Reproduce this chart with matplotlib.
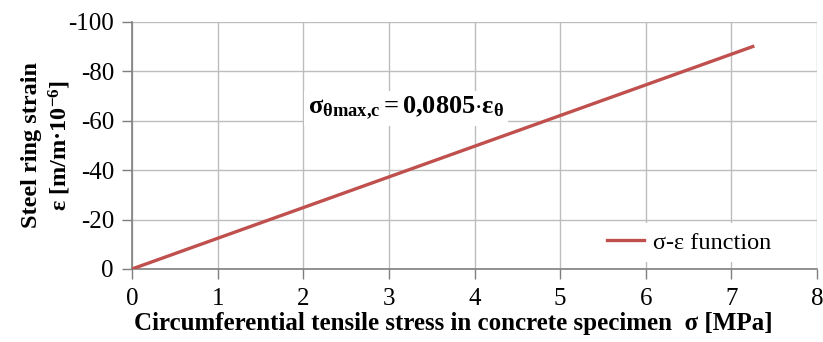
import matplotlib
matplotlib.use("Agg")
import matplotlib.pyplot as plt

# stress in concrete specimen [MPa] vs. steel ring strain [m/m*10^-6]
sigma = [0.0, 7.25]
strain = [0.0, -90.06]
x_ticks = [0, 1, 2, 3, 4, 5, 6, 7, 8]
y_ticks = [0, -20, -40, -60, -80, -100]

plt.rcParams['font.family'] = ['Liberation Serif', 'DejaVu Serif']
plt.rcParams['mathtext.fontset'] = 'custom'
plt.rcParams['mathtext.rm'] = 'Liberation Serif'
plt.rcParams['mathtext.bf'] = 'Liberation Serif:bold'
plt.rcParams['mathtext.it'] = 'Liberation Serif:italic'
plt.rcParams['axes.unicode_minus'] = False

fig = plt.figure(figsize=(8.23, 3.42), dpi=100)
ax = fig.add_axes([0.1604, 0.2135, 0.8323, 0.7222])

ax.plot(sigma, strain, color='#c0504d', lw=2.4, label='σ-ε function', zorder=3)

ax.set_xlim(0, 8)
ax.set_ylim(0, -100)
ax.set_xticks(x_ticks)
ax.set_yticks(y_ticks)
ax.set_yticklabels([str(v) for v in y_ticks])
ax.grid(True, color='#bdbdbd', lw=1.0)
ax.set_axisbelow(True)

for s in ['top', 'right']:
    ax.spines[s].set_visible(False)
for s in ['left', 'bottom']:
    ax.spines[s].set_color('#7f7f7f')
    ax.spines[s].set_linewidth(1.2)
ax.tick_params(axis='both', colors='#7f7f7f', labelcolor='black', labelsize=18,
               length=7, width=1.0)
ax.tick_params(axis='x', pad=7)
ax.tick_params(axis='y', pad=6)

ax.set_xlabel('Circumferential tensile stress in concrete specimen  σ [MPa]',
              fontsize=18, fontweight='bold')
ax.xaxis.set_label_coords(0.469, -0.175)
ax.set_ylabel('Steel ring strain\nε [m/m·10$^{\\mathbf{-6}}$]', fontsize=17.5,
              fontweight='bold', linespacing=1.25)
ax.yaxis.set_label_coords(-0.086, 0.5)

ax.text(3.2, -65, r'$\mathbf{σ_{θmax{,}c}=0{,}0805{\cdot}ε_{θ}}$', fontsize=19,
        ha='center', va='center',
        bbox=dict(facecolor='white', edgecolor='none', pad=3), zorder=4)

leg = ax.legend(loc='lower right', bbox_to_anchor=(0.946, 0.028), fontsize=17.5,
                frameon=True, fancybox=False, handlelength=1.5, handletextpad=0.4,
                borderaxespad=0.0, borderpad=0.35)
leg.get_frame().set_edgecolor('none')
leg.get_frame().set_alpha(1.0)

fig.savefig('out.png', dpi=100)
